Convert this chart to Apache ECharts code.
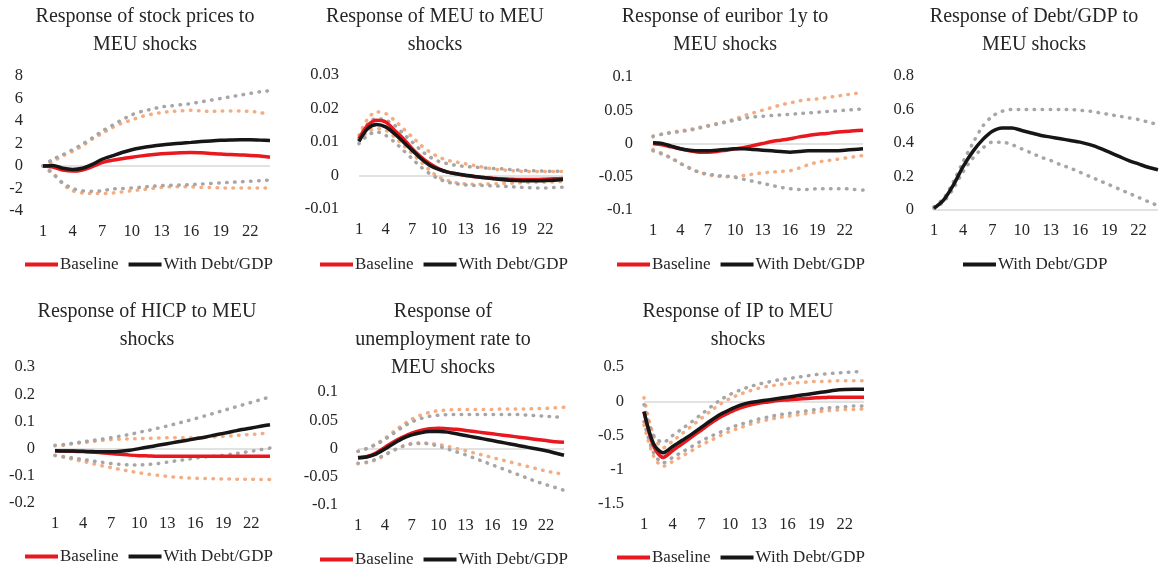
<!DOCTYPE html>
<html><head><meta charset="utf-8">
<script src="https://cdn.jsdelivr.net/npm/echarts/dist/echarts.min.js"></script>
<style>html,body{margin:0;padding:0;background:#fff}#c{width:1162px;height:571px}</style>
</head><body><div id="c"></div>
<script>
const periods = [1,2,3,4,5,6,7,8,9,10,11,12,13,14,15,16,17,18,19,20,21,22,23,24];

// Stock prices
const stockBase   = [0,-0.1,-0.35,-0.45,-0.35,-0.05,0.3,0.5,0.65,0.78,0.9,1.0,1.08,1.14,1.18,1.2,1.17,1.12,1.06,1.02,0.98,0.94,0.88,0.78];
const stockDebt   = [0,0.05,-0.2,-0.3,-0.2,0.15,0.6,0.9,1.2,1.45,1.62,1.75,1.86,1.95,2.03,2.1,2.17,2.23,2.28,2.31,2.33,2.33,2.3,2.27];
const stockBaseUp = [0,0.4,0.9,1.3,1.8,2.4,2.9,3.4,3.8,4.1,4.4,4.6,4.75,4.85,4.9,4.95,4.9,4.85,4.9,4.9,4.9,4.85,4.75,4.55];
const stockBaseLo = [0,-0.6,-1.6,-2.2,-2.4,-2.45,-2.45,-2.4,-2.3,-2.2,-2.1,-2.0,-1.9,-1.85,-1.85,-1.85,-1.9,-1.9,-1.95,-1.95,-1.95,-1.95,-1.95,-1.95];
const stockDebtUp = [0,0.6,1.0,1.45,1.95,2.5,3.1,3.6,4.1,4.55,4.85,5.05,5.25,5.35,5.45,5.55,5.7,5.85,6.0,6.15,6.3,6.45,6.6,6.7];
const stockDebtLo = [0,-0.7,-1.5,-2.0,-2.2,-2.25,-2.2,-2.05,-2.0,-1.95,-1.88,-1.8,-1.75,-1.7,-1.68,-1.65,-1.6,-1.55,-1.5,-1.45,-1.4,-1.35,-1.3,-1.25];

// MEU
const meuBase   = [0.011,0.015,0.0165,0.016,0.0135,0.011,0.008,0.0055,0.0035,0.002,0.001,0.0005,0.0,-0.0003,-0.0006,-0.0008,-0.001,-0.0011,-0.0012,-0.0012,-0.0012,-0.0011,-0.001,-0.0009];
const meuDebt   = [0.0102,0.014,0.0152,0.0145,0.0125,0.01,0.0075,0.005,0.003,0.0018,0.001,0.0005,0.0001,-0.0003,-0.0006,-0.0009,-0.0012,-0.0014,-0.0015,-0.0016,-0.0016,-0.0015,-0.0014,-0.0012];
const meuBaseUp = [0.012,0.017,0.019,0.0185,0.0165,0.014,0.0115,0.009,0.007,0.0055,0.0045,0.004,0.0035,0.003,0.0025,0.002,0.0017,0.0015,0.0013,0.0012,0.0012,0.0012,0.0012,0.0012];
const meuBaseLo = [0.0105,0.013,0.014,0.0135,0.0115,0.009,0.0065,0.004,0.0015,-0.0005,-0.0015,-0.0022,-0.0025,-0.0026,-0.0026,-0.0025,-0.0024,-0.0023,-0.0022,-0.0021,-0.002,-0.002,-0.0019,-0.0018];
const meuDebtUp = [0.011,0.0155,0.017,0.0165,0.015,0.0125,0.01,0.0075,0.0055,0.0042,0.0035,0.003,0.0027,0.0025,0.0023,0.0021,0.002,0.0018,0.0016,0.0015,0.0014,0.0013,0.0013,0.0013];
const meuDebtLo = [0.0095,0.012,0.013,0.012,0.01,0.0075,0.005,0.0025,0.0005,-0.001,-0.002,-0.0025,-0.0028,-0.003,-0.003,-0.0031,-0.0032,-0.0033,-0.0035,-0.0036,-0.0037,-0.0037,-0.0036,-0.0035];

// Euribor 1y
const eurBase   = [0,-0.002,-0.005,-0.008,-0.011,-0.013,-0.013,-0.012,-0.01,-0.008,-0.006,-0.003,0.0,0.003,0.005,0.007,0.01,0.012,0.014,0.015,0.017,0.018,0.019,0.02];
const eurDebt   = [0.001,0.0,-0.004,-0.008,-0.01,-0.011,-0.011,-0.01,-0.009,-0.008,-0.008,-0.009,-0.01,-0.011,-0.012,-0.013,-0.012,-0.011,-0.011,-0.011,-0.011,-0.01,-0.009,-0.008];
const eurBaseUp = [0.01,0.014,0.017,0.019,0.021,0.024,0.027,0.03,0.033,0.037,0.042,0.046,0.05,0.054,0.058,0.061,0.064,0.066,0.067,0.069,0.071,0.073,0.075,0.077];
const eurBaseLo = [-0.009,-0.015,-0.022,-0.03,-0.037,-0.043,-0.047,-0.049,-0.05,-0.05,-0.048,-0.046,-0.044,-0.043,-0.042,-0.041,-0.037,-0.032,-0.028,-0.026,-0.024,-0.022,-0.02,-0.018];
const eurDebtUp = [0.011,0.014,0.016,0.018,0.02,0.023,0.026,0.029,0.032,0.035,0.038,0.04,0.041,0.042,0.043,0.044,0.045,0.046,0.047,0.048,0.049,0.05,0.051,0.052];
const eurDebtLo = [-0.011,-0.016,-0.022,-0.03,-0.037,-0.043,-0.046,-0.048,-0.049,-0.051,-0.054,-0.057,-0.06,-0.063,-0.066,-0.068,-0.069,-0.069,-0.068,-0.068,-0.068,-0.068,-0.069,-0.07];

// Debt/GDP
const dgDebt   = [0.01,0.06,0.15,0.26,0.35,0.42,0.47,0.49,0.49,0.475,0.46,0.445,0.435,0.425,0.415,0.405,0.39,0.37,0.345,0.32,0.295,0.275,0.255,0.24];
const dgDebtUp = [0.02,0.07,0.17,0.29,0.4,0.5,0.56,0.59,0.6,0.6,0.6,0.6,0.6,0.6,0.6,0.595,0.59,0.58,0.57,0.56,0.55,0.54,0.525,0.51];
const dgDebtLo = [0.01,0.05,0.13,0.23,0.31,0.37,0.405,0.405,0.39,0.365,0.34,0.315,0.295,0.27,0.25,0.225,0.2,0.175,0.15,0.125,0.1,0.075,0.05,0.025];

// HICP
const hicpBase   = [-0.008,-0.009,-0.01,-0.011,-0.013,-0.015,-0.018,-0.021,-0.024,-0.026,-0.027,-0.028,-0.028,-0.028,-0.028,-0.028,-0.028,-0.028,-0.028,-0.028,-0.028,-0.028,-0.028,-0.028];
const hicpDebt   = [-0.008,-0.009,-0.009,-0.01,-0.011,-0.012,-0.012,-0.01,-0.006,0.0,0.006,0.012,0.018,0.024,0.03,0.036,0.042,0.049,0.056,0.063,0.07,0.076,0.082,0.088];
const hicpBaseUp = [0.01,0.013,0.018,0.022,0.026,0.03,0.033,0.035,0.036,0.037,0.038,0.039,0.04,0.04,0.04,0.04,0.041,0.043,0.045,0.047,0.05,0.052,0.055,0.058];
const hicpBaseLo = [-0.025,-0.032,-0.04,-0.047,-0.055,-0.063,-0.07,-0.077,-0.083,-0.089,-0.094,-0.098,-0.102,-0.105,-0.107,-0.109,-0.11,-0.111,-0.112,-0.112,-0.113,-0.113,-0.114,-0.114];
const hicpDebtUp = [0.012,0.015,0.02,0.025,0.03,0.035,0.04,0.046,0.052,0.06,0.067,0.075,0.083,0.092,0.101,0.11,0.12,0.13,0.14,0.15,0.16,0.17,0.18,0.19];
const hicpDebtLo = [-0.025,-0.03,-0.035,-0.04,-0.045,-0.05,-0.055,-0.058,-0.06,-0.06,-0.058,-0.055,-0.05,-0.045,-0.04,-0.035,-0.031,-0.028,-0.025,-0.02,-0.015,-0.01,-0.004,0.002];

// Unemployment rate
const unBase   = [-0.016,-0.014,-0.008,0.002,0.012,0.02,0.027,0.032,0.035,0.036,0.035,0.034,0.032,0.03,0.028,0.026,0.024,0.022,0.02,0.018,0.016,0.014,0.012,0.011];
const unDebt   = [-0.017,-0.015,-0.01,-0.001,0.009,0.018,0.024,0.028,0.03,0.03,0.029,0.026,0.023,0.02,0.017,0.014,0.011,0.008,0.005,0.002,-0.001,-0.004,-0.008,-0.012];
const unBaseUp = [-0.005,0.0,0.008,0.018,0.03,0.042,0.052,0.059,0.064,0.067,0.068,0.069,0.069,0.069,0.069,0.069,0.07,0.07,0.07,0.07,0.071,0.071,0.072,0.073];
const unBaseLo = [-0.027,-0.025,-0.02,-0.012,-0.003,0.004,0.009,0.01,0.009,0.007,0.004,0.0,-0.004,-0.008,-0.012,-0.016,-0.02,-0.024,-0.028,-0.032,-0.036,-0.04,-0.043,-0.046];
const unDebtUp = [-0.005,0.0,0.007,0.016,0.027,0.038,0.047,0.053,0.057,0.059,0.06,0.06,0.06,0.06,0.06,0.06,0.06,0.06,0.06,0.059,0.058,0.057,0.056,0.055];
const unDebtLo = [-0.026,-0.024,-0.019,-0.011,-0.003,0.004,0.008,0.009,0.008,0.004,-0.001,-0.006,-0.011,-0.017,-0.023,-0.029,-0.035,-0.041,-0.047,-0.053,-0.059,-0.064,-0.069,-0.074];

// Industrial production
const ipBase   = [-0.15,-0.65,-0.82,-0.72,-0.62,-0.52,-0.42,-0.32,-0.23,-0.16,-0.1,-0.06,-0.03,-0.01,0.01,0.02,0.03,0.04,0.05,0.055,0.06,0.06,0.06,0.06];
const ipDebt   = [-0.15,-0.62,-0.75,-0.66,-0.57,-0.48,-0.38,-0.28,-0.19,-0.12,-0.06,-0.02,0.0,0.02,0.04,0.06,0.08,0.1,0.12,0.14,0.16,0.17,0.175,0.175];
const ipBaseUp = [0.05,-0.5,-0.68,-0.58,-0.47,-0.36,-0.25,-0.14,-0.04,0.04,0.1,0.15,0.19,0.22,0.24,0.26,0.27,0.28,0.29,0.29,0.3,0.3,0.3,0.3];
const ipBaseLo = [-0.35,-0.8,-0.95,-0.88,-0.8,-0.72,-0.64,-0.57,-0.5,-0.44,-0.39,-0.34,-0.3,-0.27,-0.24,-0.22,-0.2,-0.18,-0.16,-0.14,-0.13,-0.12,-0.12,-0.11];
const ipDebtUp = [-0.05,-0.5,-0.6,-0.5,-0.4,-0.3,-0.19,-0.08,0.02,0.1,0.16,0.21,0.25,0.28,0.31,0.33,0.35,0.37,0.39,0.4,0.41,0.42,0.43,0.43];
const ipDebtLo = [-0.3,-0.75,-0.9,-0.82,-0.74,-0.66,-0.58,-0.51,-0.45,-0.39,-0.34,-0.3,-0.26,-0.23,-0.2,-0.18,-0.16,-0.14,-0.12,-0.1,-0.09,-0.08,-0.07,-0.07];

const titles = [
  'Response of stock prices to\nMEU shocks',
  'Response of MEU to MEU\nshocks',
  'Response of euribor 1y to\nMEU shocks',
  'Response of Debt/GDP to\nMEU shocks',
  'Response of HICP to MEU\nshocks',
  'Response of\nunemployment rate to\nMEU shocks',
  'Response of IP to MEU\nshocks'
];
const legendNames = ['Baseline', 'With Debt/GDP'];

const panels = [
  {tx:145, ty:3,   grid:{left:43, top:76, width:227, height:135}, y:[-4,8,2],
   d:[stockBase,stockDebt,stockBaseUp,stockBaseLo,stockDebtUp,stockDebtLo], lg:{left:25, top:256}},
  {tx:435, ty:3,   grid:{left:359, top:75, width:204, height:134}, y:[-0.01,0.03,0.01],
   d:[meuBase,meuDebt,meuBaseUp,meuBaseLo,meuDebtUp,meuDebtLo], lg:{left:320, top:256}},
  {tx:725, ty:3,   grid:{left:653, top:77, width:210, height:133}, y:[-0.1,0.1,0.05],
   d:[eurBase,eurDebt,eurBaseUp,eurBaseLo,eurDebtUp,eurDebtLo], lg:{left:617, top:256}},
  {tx:1034, ty:3,  grid:{left:934, top:76, width:224, height:134}, y:[0,0.8,0.2],
   d:[null,dgDebt,null,null,dgDebtUp,dgDebtLo], lg:{left:963, top:256}},
  {tx:147, ty:298, grid:{left:55, top:367, width:215, height:136}, y:[-0.2,0.3,0.1],
   d:[hicpBase,hicpDebt,hicpBaseUp,hicpBaseLo,hicpDebtUp,hicpDebtLo], lg:{left:25, top:548}},
  {tx:443, ty:298, grid:{left:358, top:392, width:206, height:113}, y:[-0.1,0.1,0.05],
   d:[unBase,unDebt,unBaseUp,unBaseLo,unDebtUp,unDebtLo], lg:{left:320, top:551}},
  {tx:738, ty:298, grid:{left:644, top:367, width:220, height:137}, y:[-1.5,0.5,0.5],
   d:[ipBase,ipDebt,ipBaseUp,ipBaseLo,ipDebtUp,ipDebtLo], lg:{left:617, top:549}}
];

const FONT = '"Liberation Serif", "DejaVu Serif", serif';
const TXT = '#262626';
const RED = '#E8181E', BLACK = '#161616', ORANGE = '#F4AC80', GRAY = '#A6A6A6';

const option = {
  animation: false,
  backgroundColor: '#fff',
  title: [], grid: [], xAxis: [], yAxis: [], legend: [], series: []
};

panels.forEach((p, i) => {
  option.title.push({
    text: titles[i], left: p.tx, top: p.ty, textAlign: 'center', padding: 0,
    textStyle: {fontFamily: FONT, fontSize: 20, fontWeight: 'normal', color: TXT, lineHeight: 28}
  });
  option.grid.push(Object.assign({containLabel: false}, p.grid));
  option.xAxis.push({
    type: 'category', gridIndex: i, data: periods, boundaryGap: false,
    axisLine: {show: false, onZero: false}, axisTick: {show: false}, splitLine: {show: false},
    axisLabel: {interval: 2, margin: 12, fontFamily: FONT, fontSize: 16.5, color: TXT}
  });
  option.yAxis.push({
    type: 'value', gridIndex: i, min: p.y[0], max: p.y[1], interval: p.y[2],
    axisLine: {show: false}, axisTick: {show: false}, splitLine: {show: false},
    axisLabel: {margin: 20, fontFamily: FONT, fontSize: 16.5, color: TXT}
  });
  const [b, d, bu, bl, du, dl] = p.d;
  const dotted = (name, data, color) => ({
    name, type: 'line', xAxisIndex: i, yAxisIndex: i, data, smooth: 0.3,
    showSymbol: false, silent: true, color,
    lineStyle: {color, width: 3.5, type: [0.5, 7.5], cap: 'round'}, z: 2
  });
  const solid = (name, data, color) => ({
    name, type: 'line', xAxisIndex: i, yAxisIndex: i, data, smooth: 0.3,
    showSymbol: false, silent: true, color,
    lineStyle: {color, width: 3.5}, z: 3
  });
  const ser = [];
  if (bu) ser.push(dotted('Baseline upper', bu, ORANGE));
  if (bl) ser.push(dotted('Baseline lower', bl, ORANGE));
  if (du) ser.push(dotted('Debt upper', du, GRAY));
  if (dl) ser.push(dotted('Debt lower', dl, GRAY));
  if (b) ser.push(solid(legendNames[0], b, RED));
  if (d) ser.push(solid(legendNames[1], d, BLACK));
  ser[0].markLine = {
    silent: true, symbol: 'none', label: {show: false},
    lineStyle: {color: '#D9D9D9', width: 1.5, type: 'solid'},
    data: [{yAxis: 0}], z: 1
  };
  option.series.push(...ser);
  option.legend.push({
    left: p.lg.left, top: p.lg.top, padding: 0, itemGap: 10,
    itemWidth: 33, itemHeight: 4, icon: 'rect',
    data: b ? legendNames.slice() : [legendNames[1]],
    selectedMode: false,
    textStyle: {fontFamily: FONT, fontSize: 17, color: TXT, padding: [0, 0, 0, -3]}
  });
});

const chart = echarts.init(document.getElementById('c'), null, {renderer: 'canvas'});
chart.setOption(option);
</script></body></html>
